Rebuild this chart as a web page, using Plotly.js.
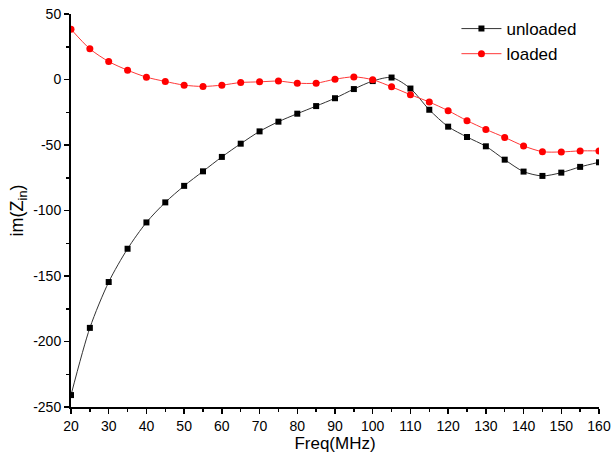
<!DOCTYPE html>
<html>
<head>
<meta charset="utf-8">
<script src="https://cdn.plot.ly/plotly-3.0.1.min.js"></script>
<style>html,body{margin:0;padding:0;background:#fff;}#chart{width:612px;height:459px;}</style>
</head>
<body>
<div id="chart"></div>
<script>
const freq = [20,25,30,35,40,45,50,55,60,65,70,75,80,85,90,95,100,105,110,115,120,125,130,135,140,145,150,155,160];
const unloaded = [-240.9,-189.6,-154.6,-129.2,-109.1,-93.8,-81.2,-70.1,-59.1,-49.0,-39.6,-32.2,-26.1,-20.3,-14.3,-7.3,-1.2,1.5,-6.9,-23.1,-36.0,-43.9,-51.0,-61.2,-70.3,-73.6,-71.1,-66.7,-63.2];
const loaded = [38.4,23.4,13.7,7.1,1.8,-1.5,-4.3,-5.3,-4.3,-2.3,-1.8,-1.2,-2.8,-2.8,0.2,2.0,-0.2,-5.6,-11.6,-17.2,-23.8,-31.4,-38.1,-44.2,-50.7,-55.1,-55.3,-54.5,-54.5];
const yTickVals = [-250,-200,-150,-100,-50,0,50];
const yTickText = ['-250','-200','-150','-100','-50','0','50'];

const font = {family: 'Liberation Sans, Arial, sans-serif', color: '#000'};
const traces = [
  {x: freq, y: unloaded, name: 'unloaded', mode: 'lines+markers', type: 'scatter',
   line: {color: '#333', width: 1, shape: 'spline', smoothing: 0.8},
   marker: {symbol: 'square', size: 6, color: '#000'}},
  {x: freq, y: loaded, name: 'loaded', mode: 'lines+markers', type: 'scatter',
   line: {color: '#ff3838', width: 1, shape: 'spline', smoothing: 0.8},
   marker: {symbol: 'circle', size: 7, color: '#ff0000'}}
];
const layout = {
  width: 612, height: 459,
  margin: {l: 71, r: 13, t: 13, b: 52},
  paper_bgcolor: '#fff', plot_bgcolor: '#fff',
  font: Object.assign({size: 13}, font),
  showlegend: true,
  legend: {x: 0.73, y: 1.005, xanchor: 'left', yanchor: 'top', bgcolor: 'rgba(0,0,0,0)',
           font: Object.assign({size: 17}, font), tracegroupgap: 0, itemwidth: 40},
  xaxis: {
    range: [20, 160], dtick: 10, tick0: 20, ticks: 'outside', ticklen: 5, tickwidth: 1.5,
    tickcolor: '#000', showline: true, linecolor: '#000', linewidth: 2, showgrid: false,
    zeroline: false, tickfont: Object.assign({size: 14}, font),
    minor: {dtick: 5, ticks: 'outside', ticklen: 3, tickcolor: '#000', tickwidth: 1.5, showgrid: false},
    title: {text: 'Freq(MHz)', font: Object.assign({size: 17}, font), standoff: 4}
  },
  yaxis: {
    range: [-250, 50], tickmode: 'array', tickvals: yTickVals, ticktext: yTickText,
    ticks: 'outside', ticklen: 5, tickwidth: 1.5,
    tickcolor: '#000', showline: true, linecolor: '#000', linewidth: 2, showgrid: false,
    zeroline: false, tickfont: Object.assign({size: 14}, font),
    minor: {dtick: 25, ticks: 'outside', ticklen: 3, tickcolor: '#000', tickwidth: 1.5, showgrid: false},
    title: {text: 'im(Z<sub>in</sub>)', font: Object.assign({size: 18}, font), standoff: 5}
  }
};
Plotly.newPlot('chart', traces, layout, {displayModeBar: false, staticPlot: true});
</script>
</body>
</html>
